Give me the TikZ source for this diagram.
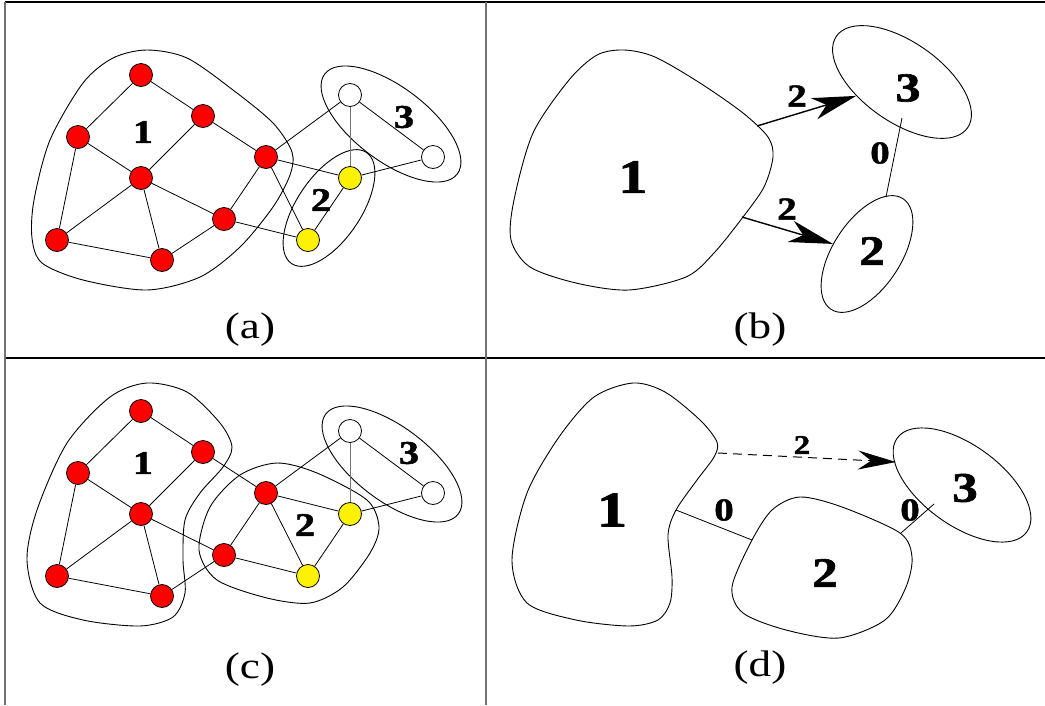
\documentclass[tikz,border=0pt]{standalone}
\usepackage{fontspec}
\setmainfont{Liberation Serif}[FakeStretch=1.22,BoldFeatures={FakeBold=1.5}]
\usetikzlibrary{shapes.geometric,arrows.meta}
\newcommand{\mygraph}{%
  \node[rv] (n1) at (141,75) {};
  \node[rv] (n2) at (203,116) {};
  \node[rv] (n3) at (78,137) {};
  \node[rv] (n4) at (141,178) {};
  \node[rv] (n5) at (266,157) {};
  \node[rv] (n6) at (224,219) {};
  \node[rv] (n7) at (57,240) {};
  \node[rv] (n8) at (162,260) {};
  \node[yv] (y1) at (350,178) {};
  \node[yv] (y2) at (308,240) {};
  \node[wv] (w1) at (350,95) {};
  \node[wv] (w2) at (433,157) {};
  \draw[gedge] (n1) -- (n3);
  \draw[gedge] (n1) -- (n2);
  \draw[gedge] (n3) -- (n4);
  \draw[gedge] (n3) -- (n7);
  \draw[gedge] (n2) -- (n4);
  \draw[gedge] (n2) -- (n5);
  \draw[gedge] (n4) -- (n7);
  \draw[gedge] (n4) -- (n8);
  \draw[gedge] (n4) -- (n6);
  \draw[gedge] (n7) -- (n8);
  \draw[gedge] (n8) -- (n6);
  \draw[gedge] (n6) -- (n5);
  \draw[gedge] (n5) -- (w1);
  \draw[gedge] (n5) -- (y1);
  \draw[gedge] (n5) -- (y2);
  \draw[gedge] (n6) -- (y2);
  \draw[gedge] (y2) -- (y1);
  \draw[gedge,draw=black!55] (y1) -- (w1);
  \draw[gedge] (w1) -- (w2);
  \draw[gedge] (y1) -- (w2);
}
\begin{document}
\begin{tikzpicture}[x=1pt,y=-1pt,
  vtx/.style={circle,draw,line width=0.8pt,minimum size=23pt,inner sep=0pt},
  rv/.style={vtx,fill=red},
  yv/.style={vtx,fill=yellow},
  wv/.style={vtx,fill=white},
  gedge/.style={line width=0.8pt},
  blob/.style={line width=0.9pt},
  ell/.style={draw,ellipse,line width=0.9pt,inner sep=0pt},
  frm/.style={line width=1.4pt},
  vfrm/.style={line width=1.6pt,draw=black!55},
  lab/.style={font=\fontsize{33}{35}\selectfont\bfseries,inner sep=0pt},
  blab/.style={font=\fontsize{#1}{#1}\selectfont\bfseries,inner sep=0pt},
  elab/.style={font=\fontsize{#1}{#1}\selectfont\bfseries,inner sep=0pt},
  capt/.style={font=\fontsize{37}{40}\selectfont,inner sep=0pt},
  arr/.style={line width=1.4pt,-{Stealth[length=44pt,width=22pt,inset=13pt]}},
  darr/.style={line width=1pt,dash pattern=on 9pt off 6pt,-{Stealth[length=38pt,width=19pt,inset=13pt]}}
]
\useasboundingbox (0,0) rectangle (1045,705);
% frame
\draw[frm] (5,2) -- (1045,2);
\draw[frm] (5,358) -- (1045,358);
\draw[vfrm] (5,2) -- (5,705);
\draw[vfrm] (486,2) -- (486,705);

% ---------------- (a)
\begin{scope}[name prefix=a-]
\draw[blob] plot[smooth cycle] coordinates {(147,50) (187,58) (233,90) (273,123) (292,152) (290,175) (273,207) (240,247) (200,277) (147,290) (83,280) (42,263) (32,238) (34,200) (50,140) (83,83) (113,58)};
\node[ell,minimum width=134pt,minimum height=64pt,rotate=56] (e2) at (329,208) {};
\node[ell,minimum width=166pt,minimum height=74pt,rotate=-37] (e3) at (391,124) {};
\mygraph
\node[lab] (l1) at (143,132) {1};
\node[lab] (l2) at (321,200) {2};
\node[lab] (l3) at (404,117) {3};
\node[capt] (cp) at (250,330) {(a)};
\end{scope}

% ---------------- (c)
\begin{scope}[shift={(0,336)},name prefix=c-]
\draw[blob] plot[smooth cycle] coordinates {(147,47) (187,56) (220,87) (232,111) (223,131) (200,157) (185,184) (183,224) (185,257) (173,281) (140,290) (83,284) (40,267) (27,224) (37,174) (67,107) (110,61)};
\draw[blob] plot[smooth cycle] coordinates {(277,127) (317,137) (367,164) (379,191) (370,217) (343,251) (310,267) (267,262) (217,244) (199,214) (210,171) (240,139)};
\node[ell,minimum width=166pt,minimum height=74pt,rotate=-37] (e3) at (392,128) {};
\mygraph
\node[lab] (l1) at (143,127) {1};
\node[lab] (l2) at (305,189) {2};
\node[lab] (l3) at (409,117) {3};
\end{scope}
\node[capt] (capc) at (250,670) {(c)};

% ---------------- (b)
\draw[blob] plot[smooth cycle] coordinates {(624,50) (655,57) (700,83) (743,113) (768,137) (773,157) (764,187) (743,217) (714,253) (686,277) (629,290) (576,283) (530,267) (511,240) (514,200) (533,133) (569,80) (597,55)};
\node[ell,minimum width=160pt,minimum height=80pt,rotate=-35] (b3) at (902,82) {};
\node[ell,minimum width=132pt,minimum height=68pt,rotate=57] (b2) at (867,254) {};
\coordinate (b1a) at (757,126);
\coordinate (b1b) at (742,217);
\coordinate (b3s) at (902,118);
\coordinate (b2n) at (886,197);
\draw[arr] (b1a) -- (b3);
\draw[arr] (b1b) -- (b2);
\draw[gedge] (b3s) -- (b2n);
\node[blab=48] (bl1) at (633,177) {1};
\node[blab=42] (bl2) at (872,251) {2};
\node[blab=41] (bl3) at (908,88) {3};
\node[elab=32] (be13) at (797,96) {2};
\node[elab=32] (be12) at (787,209) {2};
\node[elab=32] (be32) at (880,153) {0};
\node[capt] (capb) at (760,330) {(b)};

% ---------------- (d)
\draw[blob] plot[smooth cycle] coordinates {(633,383) (665,392) (700,420) (717,442) (714,457) (697,480) (676,510) (668,535) (672,577) (670,603) (658,620) (629,626) (576,620) (527,603) (512,560) (527,493) (559,437) (594,397)};
\draw[blob] plot[smooth cycle] coordinates {(800,497) (842,507) (900,533) (912,557) (906,587) (885,620) (839,638) (786,630) (743,613) (732,587) (751,542) (772,510)};
\node[ell,minimum width=160pt,minimum height=80pt,rotate=-36] (d3) at (962,485) {};
\coordinate (d1a) at (718,453);
\coordinate (d3a) at (896,462);
\coordinate (d1b) at (676,510);
\coordinate (d2a) at (752,540);
\coordinate (d2b) at (901,533);
\coordinate (d3b) at (934,504);
\draw[darr] (d1a) -- (d3a);
\draw[gedge] (d1b) -- (d2a);
\draw[gedge] (d2b) -- (d3b);
\node[blab=50] (dl1) at (612,510) {1};
\node[blab=42] (dl2) at (825,573) {2};
\node[blab=42] (dl3) at (965,488) {3};
\node[elab=27] (de13) at (802,445) {2};
\node[elab=32] (de12) at (724,510) {0};
\node[elab=32] (de23) at (910,510) {0};
\node[capt] (capd) at (760,668) {(d)};
\end{tikzpicture}
\end{document}
